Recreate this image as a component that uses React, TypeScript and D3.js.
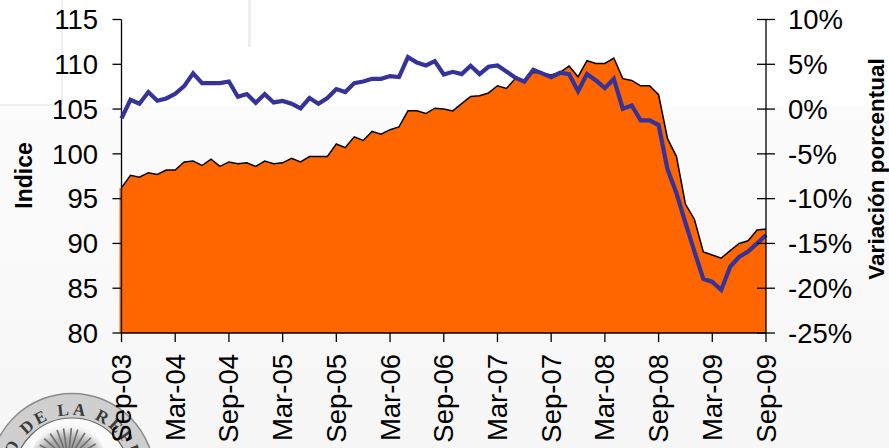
import React from "react";
import * as d3 from "d3";

const tickLabels = ["Sep-03","Mar-04","Sep-04","Mar-05","Sep-05","Mar-06","Sep-06","Mar-07","Sep-07","Mar-08","Sep-08","Mar-09","Sep-09"];
const indexTicks = [80,85,90,95,100,105,110,115];
const pctTicks = [-25,-20,-15,-10,-5,0,5,10];
const indexValues = [96.2,97.6,97.4,97.9,97.7,98.2,98.2,99.1,99.2,98.7,99.4,98.6,99.1,98.9,99.0,98.6,99.2,98.9,99.0,99.5,99.1,99.7,99.7,99.7,101.1,100.7,101.9,101.5,102.5,102.2,102.7,103.0,104.8,104.8,104.5,105.1,105.0,104.8,105.6,106.4,106.5,106.8,107.6,107.3,108.4,108.2,109.1,109.0,108.8,109.1,109.8,108.6,110.4,110.1,110.1,110.7,108.4,108.2,107.6,107.6,106.6,101.7,99.7,94.4,92.7,89.06,88.7,88.36,89.2,90.0,90.3,91.5,91.6];
const pctValues = [-1.04,1.04,0.6,1.9,0.93,1.19,1.7,2.56,4.0,2.9,2.9,2.9,3.08,1.37,1.67,0.7,1.67,0.74,0.9,0.6,0.07,1.23,0.6,1.23,2.23,1.9,2.9,3.08,3.38,3.38,3.68,3.57,5.8,5.2,4.87,5.35,3.86,4.16,3.9,4.83,3.9,4.72,4.87,4.2,3.5,3.05,4.38,3.98,3.57,4.05,3.9,2.0,3.9,3.2,2.34,3.38,0.04,0.4,-1.26,-1.26,-1.78,-6.73,-9.4,-12.7,-15.9,-18.95,-19.3,-20.2,-17.6,-16.5,-15.9,-15.0,-14.05];
const crestAngles = [-62,-48,-34,-20,-8,6,18,32,46,60];

const FONT = "Liberation Sans, Arial, sans-serif";
const L = 121.5, R = 766, T = 19.5, B = 333;
const TICK_FONT = 27.5;

export default function App() {
  const x = d3.scaleLinear().domain([0, 72]).range([L, R]);
  const yL = d3.scaleLinear().domain([80, 115]).range([B, T]);
  const yR = d3.scaleLinear().domain([-25, 10]).range([B, T]);
  const area = d3.area<number>().x((_, i) => x(i)).y0(B).y1(d => yL(d));
  const top = d3.line<number>().x((_, i) => x(i)).y(d => yL(d));
  const line = d3.line<number>().x((_, i) => x(i)).y(d => yR(d));
  const sealText = "BANCO DE LA REPUBLICA";
  return (
    <svg width={889} height={448} style={{ position: "fixed", left: 0, top: 0, display: "block" }} fontFamily={FONT}>
      <defs>
        <linearGradient id="bg" x1="0" x2="0" y1="0" y2="1">
          <stop offset="0" stopColor="#ffffff" />
          <stop offset="0.23" stopColor="#ffffff" />
          <stop offset="0.24" stopColor="#fcfcfc" />
          <stop offset="1" stopColor="#f6f6f6" />
        </linearGradient>
        <radialGradient id="crest" cx="0.5" cy="0.6" r="0.55">
          <stop offset="0" stopColor="#808080" />
          <stop offset="0.7" stopColor="#b0b0b0" />
          <stop offset="1" stopColor="#f4f4f4" />
        </radialGradient>
        <path id="sealArc" d="M 11 476 A 61 61 0 0 1 133 476" />
      </defs>
      <rect width={889} height={448} fill="url(#bg)" />
      <rect x={248} y={0} width={3} height={47} fill="#eeeeee" />
      <rect x={61} y={0} width={2} height={105} fill="#efefef" />
      <rect x={0} y={104} width={62} height={2} fill="#efefef" />

      <g>
        <circle cx={72} cy={476} r={82.5} fill="#cfcfcf" stroke="#8a8a8a" strokeWidth={1.5} />
        <circle cx={72} cy={476} r={58} fill="#fbfbfb" stroke="#666" strokeWidth={1.2} />
        <g transform="rotate(7 72 476)">
          <text fontSize={17} fontWeight="bold" fontFamily="Liberation Serif, serif" fill="#3a3a3a" letterSpacing={3.2}>
            <textPath href="#sealArc" startOffset="50%" textAnchor="middle">{sealText}</textPath>
          </text>
        </g>
        <ellipse cx={68} cy={455} rx={36} ry={30} fill="url(#crest)" />
        {crestAngles.map(a => (
          <line key={a} x1={68} y1={448} x2={68} y2={428} transform={`rotate(${a} 68 460)`} stroke="#6e6e6e" strokeWidth={1.6} />
        ))}
      </g>

      <path d={`M${L},${T}V${B}`} stroke="#000" strokeWidth={1.3} />
      <rect x={x(0) - 2} y={yL(indexValues[0])} width={3} height={B - yL(indexValues[0])} fill="#ff6600" />
      <path d={area(indexValues) ?? ""} fill="#ff6600" />
      <path d={`M${L},${yL(indexValues[0])}V${B}`} stroke="#000" strokeWidth={1.3} />
      <path d={top(indexValues) ?? ""} fill="none" stroke="#000" strokeWidth={1.5} />
      <path d={`M${L},${B}H${R}`} stroke="#000" strokeWidth={1.4} />
      <path d={line(pctValues) ?? ""} fill="none" stroke="#333399" strokeWidth={4.2} strokeLinejoin="miter" />

      <path d={`M${R},${T}V${B}`} stroke="#000" strokeWidth={1.3} />
      {indexTicks.map(t => (
        <g key={t}>
          <line x1={L - 9} x2={L} y1={yL(t)} y2={yL(t)} stroke="#000" strokeWidth={1.3} />
          <text x={98} y={yL(t) + 9.7} textAnchor="end" fontSize={TICK_FONT} fill="#000">{t}</text>
        </g>
      ))}
      {pctTicks.map(t => (
        <g key={t}>
          <line x1={R - 9} x2={R + 9} y1={yR(t)} y2={yR(t)} stroke="#000" strokeWidth={1.3} />
          <text x={788} y={yR(t) + 9.7} fontSize={TICK_FONT} fill="#000">{t}%</text>
        </g>
      ))}
      {tickLabels.map((t, i) => (
        <g key={t}>
          <line x1={x(i * 6)} x2={x(i * 6)} y1={B} y2={B + 9} stroke="#000" strokeWidth={1.3} />
          <text transform={`translate(${x(i * 6) + 9.5},${B + 21}) rotate(-90)`} textAnchor="end" fontSize={TICK_FONT} fill="#000">{t}</text>
        </g>
      ))}
      <text transform="translate(32,175.5) rotate(-90)" textAnchor="middle" fontSize={23} fontWeight="bold" fill="#000">Indice</text>
      <text transform="translate(884,169) rotate(-90)" textAnchor="middle" fontSize={22.5} fontWeight="bold" fill="#000">Variación porcentual</text>
    </svg>
  );
}
